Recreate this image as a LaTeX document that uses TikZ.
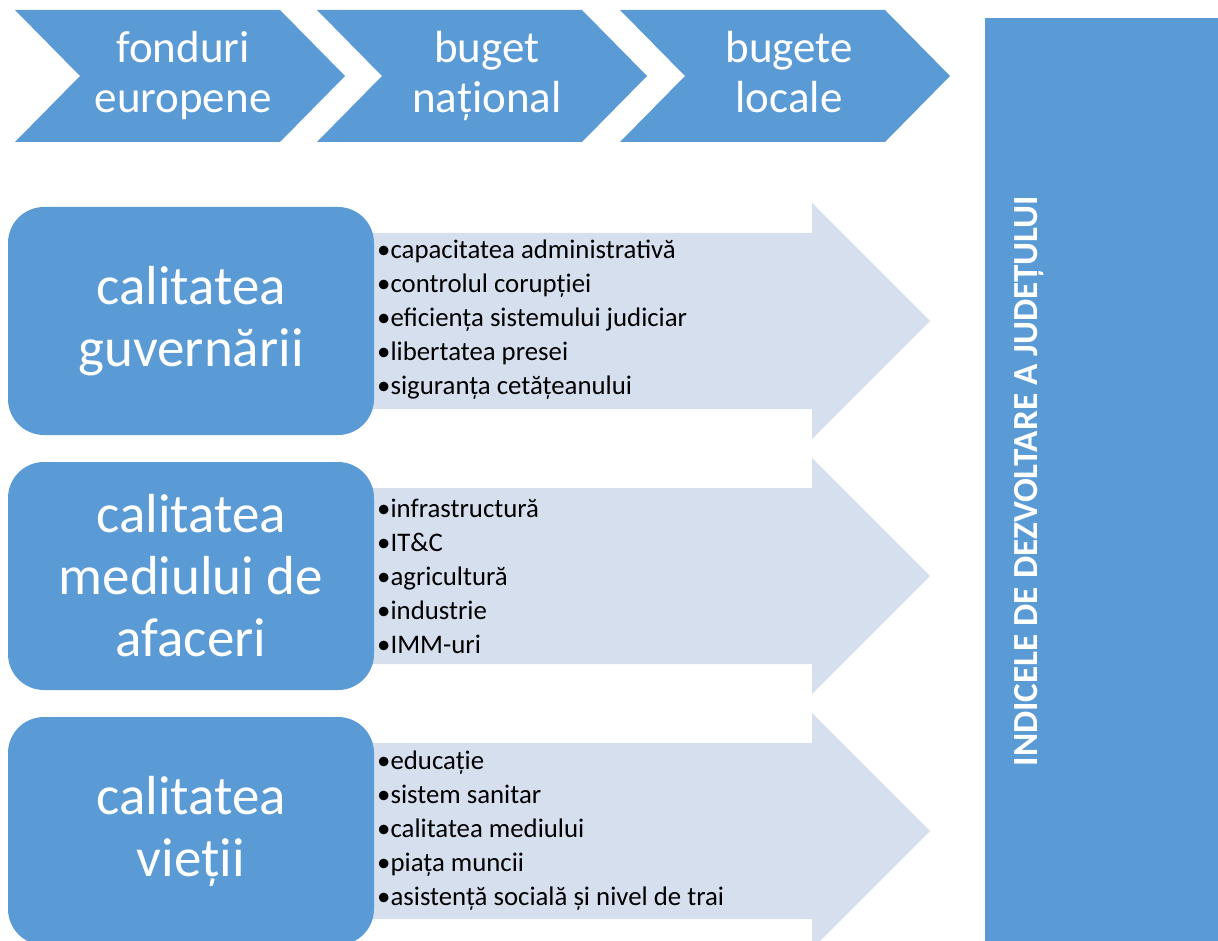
\documentclass[tikz,border=0pt]{standalone}
\usepackage{fontspec}
\setmainfont{Carlito}
\definecolor{mainblue}{HTML}{5B9BD5}
\definecolor{lightblue}{HTML}{D5DFEE}
\tikzset{
  chev/.style={fill=mainblue, draw=none},
  chevtext/.style={text=white, font=\fontsize{45}{50}\selectfont, align=center, inner sep=0pt, anchor=base},
  bigarrow/.style={fill=lightblue, draw=none},
  catbox/.style={fill=mainblue, draw=none, rounded corners=36pt, minimum width=366pt, minimum height=228pt, text=white, font=\fontsize{55}{62}\selectfont, align=center, inner sep=0pt},
  bullets/.style={text=black, font=\fontsize{26.8}{34}\selectfont, align=left, inner sep=0pt, anchor=west},
}
\newcommand{\chevronshape}[1]{%
  \fill[chev] (#1+15,10) -- (#1+280,10) -- (#1+345,76) -- (#1+280,142) -- (#1+15,142) -- (#1+80,76) -- cycle;}
\newcommand{\bigarrowshape}[1]{%
  \fill[bigarrow] (360,#1-88) -- (812,#1-88) -- (812,#1-118) -- (930,#1) -- (812,#1+118) -- (812,#1+88) -- (360,#1+88) -- cycle;}
\begin{document}
\begin{tikzpicture}[x=1pt,y=-1pt]
\useasboundingbox (0,0) rectangle (1218,941);
% chevrons
\chevronshape{0}
\chevronshape{302}
\chevronshape{605}
\node[chevtext] (c1) at (183,112.5) {fonduri\\europene};
\node[chevtext] (c2) at (487,112.5) {buget\\național};
\node[chevtext] (c3) at (789,112.5) {bugete\\locale};
% right bar
\fill[mainblue] (985,18) rectangle (1218,945);
\node[text=white, font=\bfseries\fontsize{35.2}{40}\selectfont, rotate=90, inner sep=0pt, anchor=base] (idx) at (1037,481) {INDICELE DE DEZVOLTARE A JUDEȚULUI};
% light arrows
\bigarrowshape{321}
\bigarrowshape{576}
\bigarrowshape{831}
% category boxes
\node[catbox] (b1) at (191,321) {calitatea\\guvernării};
\node[catbox] (b2) at (191,576) {calitatea\\mediului de\\afaceri};
\node[catbox] (b3) at (191,831) {calitatea\\vieții};
% bullet lists
\node[bullets] (l1) at (377,320) {•capacitatea administrativă\\•controlul corupției\\•eficiența sistemului judiciar\\•libertatea presei\\•siguranța cetățeanului};
\node[bullets] (l2) at (377,576) {•infrastructură\\•IT\&C\\•agricultură\\•industrie\\•IMM-uri};
\node[bullets] (l3) at (377,831) {•educație\\•sistem sanitar\\•calitatea mediului\\•piața muncii\\•asistență socială și nivel de trai};
\end{tikzpicture}
\end{document}
